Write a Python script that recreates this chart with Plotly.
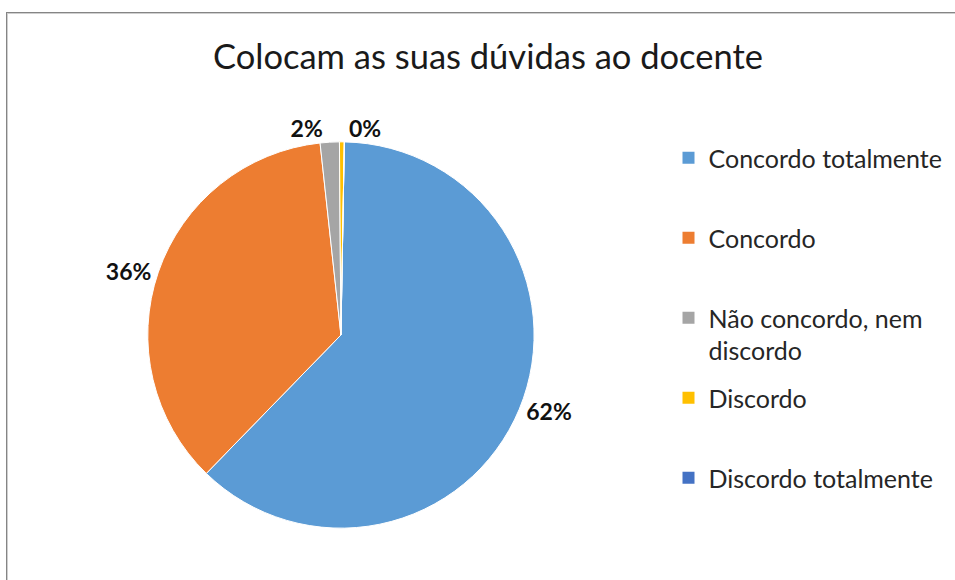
import plotly.graph_objects as go

categories = ["Concordo totalmente", "Concordo", "Não concordo, nem discordo", "Discordo", "Discordo totalmente"]
legend_labels = [
    "Concordo totalmente<br> ",
    "Concordo<br> ",
    "Não concordo, nem<br>discordo",
    "Discordo<br> ",
    "Discordo totalmente",
]
counts = [155, 90, 4, 1, 0]
colors = ["#5B9BD5", "#ED7D31", "#A5A5A5", "#FFC000", "#4472C4"]
title_text = "Colocam as suas dúvidas ao docente"

text_templates = ["%{percent:.0%}" if c > 0 else "" for c in counts]
text_positions = ["outside" if c > 0 else "none" for c in counts]

fig = go.Figure()
fig.add_trace(
    go.Pie(
        labels=categories,
        values=counts,
        sort=False,
        direction="clockwise",
        rotation=1,
        marker=dict(colors=colors, line=dict(color="white", width=1)),
        texttemplate=text_templates,
        textposition=text_positions,
        textfont=dict(family="Lato", size=23, color="#111111", weight="bold"),
        hoverinfo="label+value+percent",
        domain=dict(x=[0.06, 0.654], y=[0.0894, 0.7554]),
        showlegend=False,
    )
)

# legend entries (one per category, separate groups so gaps can be set)
for i, (lab, col) in enumerate(zip(legend_labels, colors)):
    fig.add_trace(
        go.Scatter(
            x=[None],
            y=[None],
            mode="markers",
            marker=dict(symbol="square", size=12, color=col),
            name=lab,
            legendgroup=f"g{i}",
            showlegend=True,
            hoverinfo="skip",
        )
    )

W, H = 955, 580


def hline(y_px, color):
    return dict(type="line", xref="paper", yref="paper",
                x0=6 / W, x1=1.0, y0=1 - y_px / H, y1=1 - y_px / H,
                line=dict(color=color, width=1))


def vline(x_px, y_px, color):
    return dict(type="line", xref="paper", yref="paper",
                x0=x_px / W, x1=x_px / W, y0=0, y1=1 - y_px / H,
                line=dict(color=color, width=1))


fig.update_layout(
    width=W,
    height=H,
    margin=dict(l=0, r=0, t=0, b=0, autoexpand=False),
    paper_bgcolor="white",
    plot_bgcolor="white",
    xaxis=dict(visible=False),
    yaxis=dict(visible=False),
    title=dict(
        text=title_text,
        x=0.511,
        xanchor="center",
        y=1 - 57 / 580,
        yanchor="middle",
        font=dict(family="Lato", size=34.5, color="#1a1a1a"),
    ),
    legend=dict(
        x=0.70,
        xanchor="left",
        y=1 - 135 / 580,
        yanchor="top",
        font=dict(family="Lato", size=25, color="#262626"),
        valign="top",
        traceorder="grouped",
        tracegroupgap=12,
        bgcolor="rgba(0,0,0,0)",
    ),
    shapes=[
        hline(12.5, "#858585"),
        hline(13.5, "#cfcfcf"),
        vline(6.5, 12, "#858585"),
        vline(7.5, 13, "#cfcfcf"),
    ],
)

fig.write_html(
    "out.html",
    config={"displayModeBar": False},
    post_script=(
        "document.body.style.margin='0px';"
        "document.body.style.overflow='hidden';"
        "document.documentElement.style.overflow='hidden';"
    ),
)
